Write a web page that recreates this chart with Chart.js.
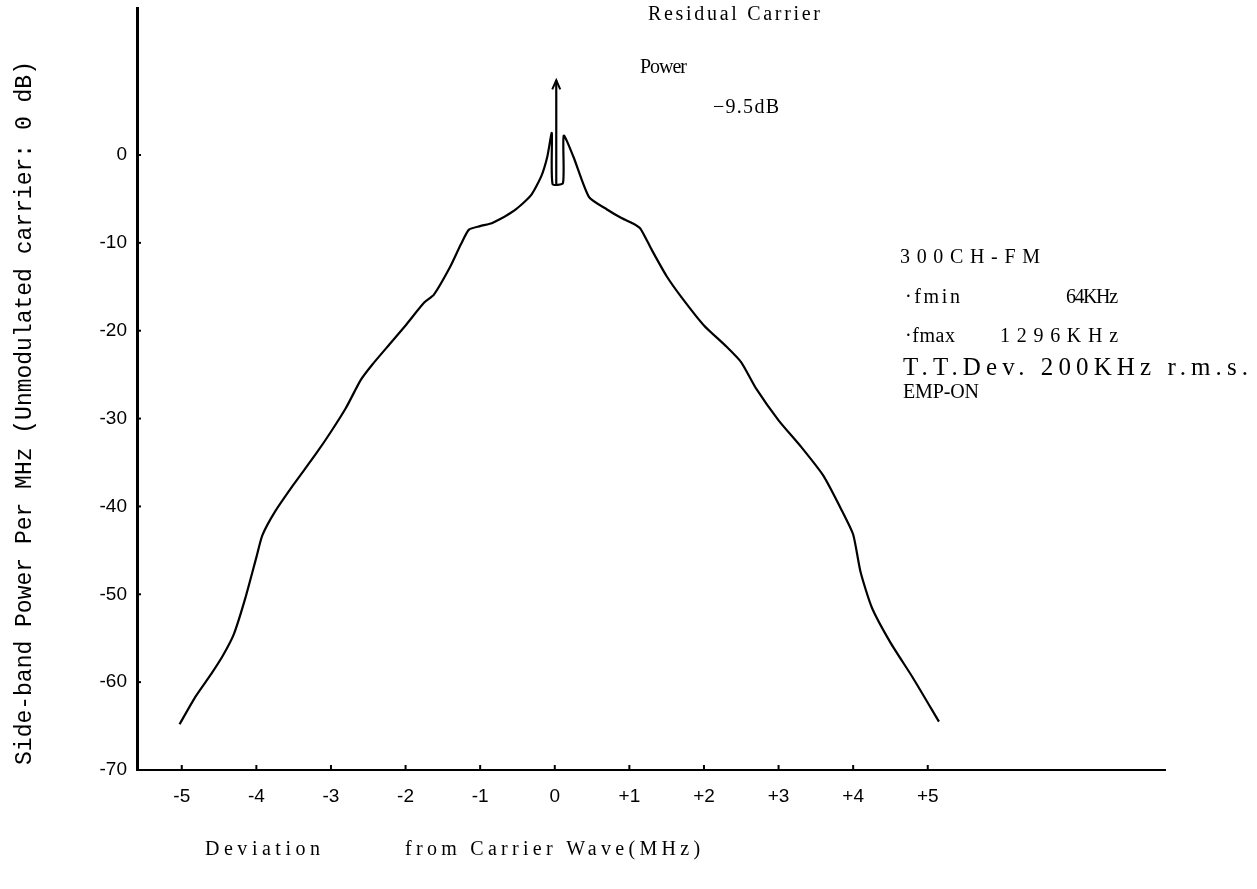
<!DOCTYPE html>
<html>
<head>
<meta charset="utf-8">
<script src="https://cdn.jsdelivr.net/npm/chart.js@4.4.0/dist/chart.umd.min.js"></script>
<style>
html, body { margin: 0; padding: 0; background: #fff; }
#wrap { width: 1257px; height: 889px; position: relative; }
</style>
</head>
<body>
<div id="wrap"><canvas id="myChart"></canvas></div>
<script>
// tick positions and labels
var xTicks = [-5, -4, -3, -2, -1, 0, 1, 2, 3, 4, 5];
var xTickLabels = ['-5', '-4', '-3', '-2', '-1', '0', '+1', '+2', '+3', '+4', '+5'];
var yTicks = [-70, -60, -50, -40, -30, -20, -10, 0];

// side-band spectrum, left half (MHz, dB)
var devLeft = [-5.03, -4.82, -4.6, -4.45, -4.3, -4.15, -4.0, -3.92, -3.75, -3.5, -3.2, -3.0, -2.8, -2.6, -2.45, -2.2, -2.0, -1.75, -1.62, -1.4, -1.26, -1.15, -1.0, -0.83, -0.54, -0.32, -0.18, -0.1, -0.04];
var powLeft = [-64.8, -61.7, -59.0, -57.0, -54.5, -50.5, -45.8, -43.3, -40.6, -37.5, -34.0, -31.5, -28.8, -25.6, -23.9, -21.4, -19.4, -16.8, -15.9, -12.7, -10.2, -8.5, -8.1, -7.7, -6.3, -4.6, -2.4, -0.2, 2.5];

// notch around the carrier
var devNotch = [-0.03, 0.11];
var powNotch = [-3.3, -3.2];

// right half
var devRight = [0.12, 0.25, 0.46, 0.7, 0.9, 1.05, 1.15, 1.3, 1.5, 1.7, 2.0, 2.3, 2.5, 2.7, 3.0, 3.3, 3.6, 3.85, 4.0, 4.1, 4.25, 4.5, 4.8, 5.15];
var powRight = [2.2, -0.2, -4.8, -6.2, -7.2, -7.8, -8.4, -10.8, -13.8, -16.2, -19.4, -21.8, -23.6, -26.6, -30.2, -33.2, -36.5, -40.5, -43.2, -47.5, -51.5, -55.5, -59.5, -64.5];

// residual carrier arrow
var carrierDev = 0.02;
var carrierPow = [-3.3, 8.5];

var spectrum = [];
devLeft.forEach(function (d, i) { spectrum.push({x: d, y: powLeft[i]}); });
devNotch.forEach(function (d, i) { spectrum.push({x: d, y: powNotch[i]}); });
devRight.forEach(function (d, i) { spectrum.push({x: d, y: powRight[i]}); });

var carrier = carrierPow.map(function (p) { return {x: carrierDev, y: p}; });

function fitText(ctx, text, x, y, width) {
    ctx.letterSpacing = '0px';
    var w = ctx.measureText(text).width;
    var ls = text.length > 1 ? (width - w) / (text.length - 1) : 0;
    ctx.letterSpacing = ls.toFixed(2) + 'px';
    ctx.fillText(text, x, y);
    ctx.letterSpacing = '0px';
}

var decorations = {
    id: 'decorations',
    afterDraw: function (chart) {
        var ctx = chart.ctx;
        var xs = chart.scales.x, ys = chart.scales.y;
        var area = chart.chartArea;
        ctx.save();
        ctx.strokeStyle = '#000';
        ctx.fillStyle = '#000';

        // small inward tick marks
        ctx.lineWidth = 2;
        xTicks.forEach(function (v) {
            var px = xs.getPixelForValue(v);
            ctx.beginPath();
            ctx.moveTo(px, area.bottom);
            ctx.lineTo(px, area.bottom - 5);
            ctx.stroke();
        });
        yTicks.forEach(function (v) {
            var py = ys.getPixelForValue(v);
            ctx.beginPath();
            ctx.moveTo(area.left, py);
            ctx.lineTo(area.left + 4, py);
            ctx.stroke();
        });

        // arrow head on the carrier line
        var ax = xs.getPixelForValue(carrierDev);
        var ay = ys.getPixelForValue(carrierPow[1]);
        ctx.lineWidth = 2;
        ctx.beginPath();
        ctx.moveTo(ax - 4, ay + 9);
        ctx.lineTo(ax, ay);
        ctx.lineTo(ax + 4, ay + 9);
        ctx.stroke();

        // annotations
        ctx.textBaseline = 'middle';
        ctx.textAlign = 'left';
        ctx.font = '20px "Liberation Serif"';
        fitText(ctx, 'Residual Carrier', 648, 15, 172);
        fitText(ctx, 'Power', 640, 68, 47);
        fitText(ctx, '\u22129.5dB', 713, 108, 66);
        fitText(ctx, '300CH-FM', 900, 258, 140);
        fitText(ctx, '\u00b7fmin', 905, 298, 55);
        fitText(ctx, '64KHz', 1066, 298, 52);
        fitText(ctx, '\u00b7fmax', 905, 337, 50);
        fitText(ctx, '1296KHz', 1000, 337, 118);
        fitText(ctx, 'EMP-ON', 903, 393, 76);
        ctx.font = '25px "Liberation Serif"';
        fitText(ctx, 'T.T.Dev. 200KHz r.m.s.', 903, 368, 345);

        // x axis title
        ctx.font = '20px "Liberation Serif"';
        fitText(ctx, 'Deviation', 205, 850, 115);
        fitText(ctx, 'from Carrier Wave(MHz)', 405, 850, 295);

        // y axis title
        ctx.translate(25, 413);
        ctx.rotate(-Math.PI / 2);
        ctx.textAlign = 'center';
        ctx.font = '23px "Liberation Mono"';
        ctx.fillText('Side-band Power Per MHz (Unmodulated carrier: 0 dB)', 0, 0);
        ctx.restore();
    }
};

var ctx = document.getElementById('myChart').getContext('2d');
var chart = new Chart(ctx, {
    type: 'scatter',
    data: {
        datasets: [{
            label: 'Spectrum',
            data: spectrum,
            showLine: true,
            borderColor: '#000',
            borderWidth: 2.2,
            pointRadius: 0,
            tension: 0.2
        }, {
            label: 'Carrier',
            data: carrier,
            showLine: true,
            borderColor: '#000',
            borderWidth: 2.2,
            pointRadius: 0
        }]
    },
    options: {
        responsive: true,
        maintainAspectRatio: false,
        animation: false,
        events: [],
        layout: { padding: { top: 8, right: 92, left: 0, bottom: 0 } },
        plugins: { legend: { display: false }, tooltip: { enabled: false } },
        scales: {
            x: {
                type: 'linear',
                min: -5.60,
                max: 8.18,
                grid: { display: false },
                border: { display: true, color: '#000', width: 2 },
                afterBuildTicks: function (s) { s.ticks = xTicks.map(function (v) { return {value: v}; }); },
                afterFit: function (s) { s.height = 119; s.paddingLeft = 0; s.paddingRight = 0; },
                ticks: {
                    padding: 7,
                    color: '#000',
                    font: { family: 'Liberation Sans', size: 19 },
                    maxRotation: 0,
                    callback: function (v) { return xTickLabels[xTicks.indexOf(v)]; }
                }
            },
            y: {
                type: 'linear',
                min: -70,
                max: 16.73,
                grid: { display: false },
                border: { display: true, color: '#000', width: 3 },
                afterBuildTicks: function (s) { s.ticks = yTicks.map(function (v) { return {value: v}; }); },
                afterFit: function (s) { s.width = 137; s.paddingTop = 0; s.paddingBottom = 0; },
                ticks: {
                    padding: 2,
                    color: '#000',
                    font: { family: 'Liberation Sans', size: 19 },
                    callback: function (v) { return String(v); }
                }
            }
        }
    },
    plugins: [decorations]
});
</script>
</body>
</html>
